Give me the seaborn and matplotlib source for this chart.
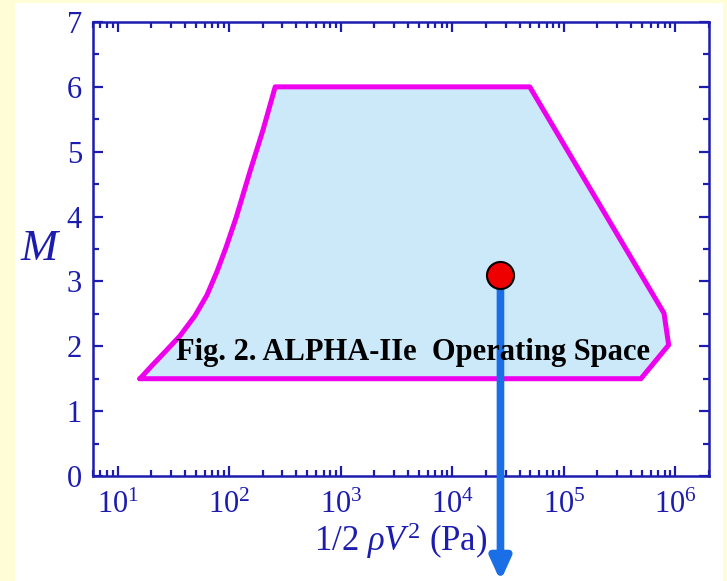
import numpy as np
import pandas as pd
import matplotlib
matplotlib.use('Agg')
import matplotlib.pyplot as plt
import seaborn as sns
from matplotlib.patches import Rectangle
from matplotlib.ticker import LogLocator, FixedLocator, MultipleLocator

# Data: envelope of the operating space (dynamic pressure in Pa, Mach number)
q_env = [15.8, 20.2, 26.4, 36.1, 49.2, 63.1, 77.5, 93.3, 115, 153, 201, 258,
         49400, 790000, 870000, 490000, 15.8]
m_env = [1.5, 1.70, 1.91, 2.16, 2.47, 2.79, 3.15, 3.52, 3.98, 4.69, 5.34, 6.0,
         6.0, 2.51, 2.02, 1.5, 1.5]
point_q = [27000]
point_m = [3.1]
x_ticks = [1e1, 1e2, 1e3, 1e4, 1e5, 1e6]
x_labels = ['10$^{1}$', '10$^{2}$', '10$^{3}$', '10$^{4}$', '10$^{5}$', '10$^{6}$']
y_ticks = [0, 1, 2, 3, 4, 5, 6, 7]

sns.set_theme(style='ticks')
plt.rcParams['font.family'] = ['Liberation Serif', 'DejaVu Serif']
plt.rcParams['mathtext.fontset'] = 'custom'
plt.rcParams['mathtext.rm'] = 'Liberation Serif'
plt.rcParams['mathtext.it'] = 'Liberation Serif:italic'
plt.rcParams['mathtext.bf'] = 'Liberation Serif:bold'

navy = '#1c1cae'
env_df = pd.DataFrame({'q': q_env, 'M': m_env})

fig = plt.figure(figsize=(7.27, 5.81), dpi=100, facecolor='#fefdd6')
# white panel behind the chart
fig.patches.append(Rectangle((15 / 727, 0), 708 / 727, 578 / 581, transform=fig.transFigure,
                             facecolor='white', edgecolor='none', zorder=-10))
ax = fig.add_axes([93 / 727, 1 - 476 / 581, 616 / 727, 454 / 581])
ax.set_facecolor('white')

ax.fill(q_env, m_env, color='#cce9fa', zorder=1)
sns.lineplot(data=env_df, x='q', y='M', sort=False, estimator=None, color='#ee00ee',
             linewidth=3.6, ax=ax, zorder=2)

ax.set_xscale('log')
ax.set_xlim(6, 2e6)
ax.set_ylim(0, 7)

# arrow going down out of the frame
ax.annotate('', xy=(point_q[0], -1.62), xytext=(point_q[0], point_m[0]),
            arrowprops=dict(arrowstyle='-|>,head_width=0.5,head_length=1.1',
                            color='#1a6fe6', lw=5.5, shrinkA=0, shrinkB=0),
            annotation_clip=False, zorder=4)
sns.scatterplot(x=point_q, y=point_m, s=380, color='#ee0000', edgecolor='black',
                linewidth=1.5, ax=ax, zorder=5, clip_on=False)

ax.text(0.519, 0.273, 'Fig. 2. ALPHA-IIe  Operating Space', transform=ax.transAxes,
        ha='center', va='center', fontsize=22, fontweight='bold', color='black', zorder=6)

ax.xaxis.set_major_locator(FixedLocator(x_ticks))
ax.set_xticklabels(x_labels)
ax.xaxis.set_minor_locator(LogLocator(base=10, subs=np.arange(2, 10)))
ax.set_yticks(y_ticks)
ax.yaxis.set_minor_locator(MultipleLocator(0.5))

for s in ax.spines.values():
    s.set_color(navy)
    s.set_linewidth(1.8)
ax.tick_params(which='both', direction='in', top=True, right=True, color=navy,
               labelcolor=navy, labelsize=22, width=1.6)
ax.tick_params(which='major', length=7, pad=8)
ax.tick_params(which='minor', length=4)
ax.tick_params(axis='x', which='major', pad=11)

ax.set_xlabel(r'1/2 $\it{\rho V}^{\rm 2}$ (Pa)', fontsize=25, color=navy, labelpad=0)
ax.set_ylabel('M', fontsize=32, style='italic', color=navy, rotation=0, labelpad=20,
              va='center')

fig.savefig('out.png', dpi=100, facecolor=fig.get_facecolor())
